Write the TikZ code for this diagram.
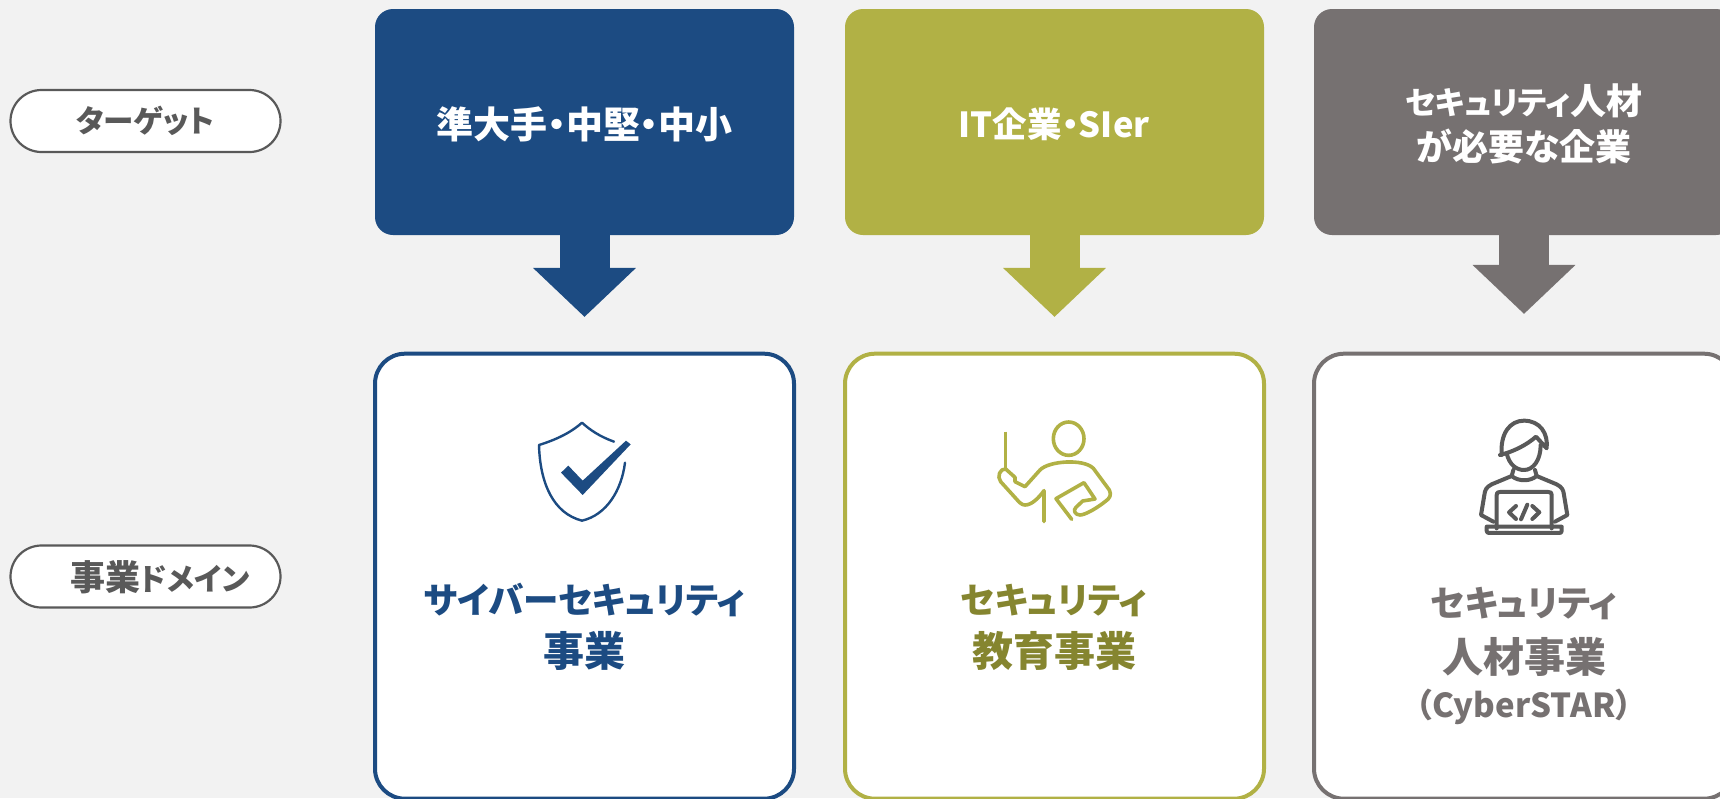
\documentclass[tikz,border=0pt]{standalone}
\usepackage{fontspec}
\setmainfont{Noto Sans CJK JP}[RawFeature=+palt]
\usetikzlibrary{arrows.meta,positioning}

\definecolor{navy}{HTML}{1C4B82}
\definecolor{olive}{HTML}{B1B145}
\definecolor{olivetext}{HTML}{85852F}
\definecolor{stone}{HTML}{767171}
\definecolor{pale}{HTML}{F2F2F2}
\definecolor{ink}{HTML}{595959}
\newcommand{\kanji}[2]{{\fontsize{#1}{#1}\selectfont #2}}

\begin{document}
\begin{tikzpicture} [x=1pt, y=-1pt]
    \tikzstyle{every node} = [align=center, inner sep=0pt, font=\bfseries]
    \tikzstyle{rowpill} = [draw=ink, line width=2.2pt, fill=white, rounded corners=31pt, minimum width=270pt, minimum height=62pt]
    \tikzstyle{pilltext} = [text=ink, font=\bfseries\fontsize{30.5}{36}\selectfont]
    \tikzstyle{targetbox} = [rounded corners=18pt, minimum height=226pt, text=white, font=\bfseries\fontsize{30}{46}\selectfont]
    \tikzstyle{domainbox} = [fill=white, line width=4pt, rounded corners=30pt, minimum height=445pt]
    \tikzstyle{domaintext} = [font=\bfseries\fontsize{35.5}{53}\selectfont]
    \tikzstyle{flow} = [line width=50pt, -{Triangle[width=100pt,length=49pt]}]
    \tikzstyle{iconline} = [line cap=round, line join=round]

    \fill[pale] (0,0) rectangle (1720,798);
    \clip (0,0) rectangle (1720,798);

    \node [rowpill] (pilltarget) at (145.5,121) {};
    \node [pilltext] (labeltarget) at (145.5,121) {ターゲット};
    \node [rowpill] (pilldomain) at (145.5,576.5) {};
    \node [pilltext] (labeldomain) at (160,577) {\kanji{35}{事業}ドメイン};

    \node [targetbox, fill=navy, minimum width=419pt] (target1) at (584.5,122) {};
    \node [targetbox, fill=olive, minimum width=419pt] (target2) at (1054.5,122) {};
    \node [targetbox, fill=stone, minimum width=420pt] (target3) at (1524,122) {};
    \node [text=white, font=\bfseries\fontsize{37}{46}\selectfont] (targetname1) at (584.5,124) {準大手・中堅・中小};
    \node [text=white, font=\bfseries\fontsize{34.5}{46}\selectfont] (targetname2) at (1054,124) {IT企業・SIer};
    \node [text=white, font=\bfseries\fontsize{31.5}{46}\selectfont] (targetname3) at (1524,124) {セキュリティ\kanji{36}{人材}\\\kanji{36}{が必要な企業}};

    \node [domainbox, draw=navy, minimum width=419pt] (domain1) at (584.5,576.2) {};
    \node [domainbox, draw=olive, minimum width=419pt] (domain2) at (1054.5,576.2) {};
    \node [domainbox, draw=stone, minimum width=420pt] (domain3) at (1524,576.2) {};

    \draw [flow, navy] (target1.south) -- ([yshift=34.75pt]domain1.north);
    \draw [flow, olive] (target2.south) -- ([yshift=34.75pt]domain2.north);
    \draw [flow, stone] (target3.south) -- ([yshift=37.75pt]domain3.north);

    \node [domaintext, text=navy] (name1) at (584.5,627) {サイバーセキュリティ\\\kanji{41}{事業}};
    \node [domaintext, text=olivetext] (name2) at (1054,627) {セキュリティ\\\kanji{41}{教育事業}};
    \node [domaintext, text=stone] (name3) at (1524,656) {セキュリティ\\[2.4pt]\kanji{41}{人材事業}\\[-7.6pt]\kanji{33}{（CyberSTAR）}};

    \begin{scope} [shift={(500,400)}, x=0.3333pt, y=-0.3333pt]
        \draw [iconline, navy, line width=2.4pt] (342,125) .. controls (300,110) and (270,90) .. (246,68) .. controls (210,100) and (165,120) .. (117,135) .. controls (120,250) and (160,340) .. (246,362) .. controls (320,345) and (365,270) .. (375,188);
        \fill [navy] (183,218) -- (205,197) -- (248,242) -- (378,122) -- (392,133) -- (248,285) -- cycle;
    \end{scope}

    \begin{scope} [shift={(970,400)}, x=0.3333pt, y=-0.3333pt]
        \draw [olive, line width=3.6pt] (296,116) ellipse [x radius=46, y radius=50];
        \draw [olive, line width=3.6pt] (107,95) -- (107,205);
        \draw [iconline, olive, line width=3.6pt] (222,365) -- (222,272) .. controls (205,295) and (185,315) .. (165,315) .. controls (155,315) and (148,307) .. (140,298) -- (92,245) .. controls (80,230) and (90,205) .. (107,207) -- (135,232) -- (135,245) -- (165,260) -- (210,210) .. controls (235,183) and (340,175) .. (370,205) -- (418,270) .. controls (425,285) and (420,295) .. (405,305) .. controls (380,325) and (345,345) .. (330,345) .. controls (315,345) and (308,330) .. (318,322) -- (338,303) -- (375,297) -- (342,248) -- (258,296) -- (305,358);
    \end{scope}

    \begin{scope} [shift={(1450,400)}, x=0.3333pt, y=-0.3333pt]
        \tikzstyle{every path} = [iconline, ink, line width=4pt]
        \draw (155,165) .. controls (150,100) and (180,62) .. (222,62) .. controls (270,62) and (295,100) .. (290,145) -- (258,110) .. controls (230,135) and (190,155) .. (150,165);
        \draw (170,160) .. controls (178,195) and (200,210) .. (222,210) .. controls (250,210) and (272,180) .. (272,135);
        \draw (190,210) -- (185,228) .. controls (205,245) and (240,245) .. (260,228) -- (255,210);
        \draw (185,228) -- (125,253) .. controls (108,262) and (105,270) .. (103,285) -- (93,345) -- (130,365);
        \draw (260,228) -- (320,253) .. controls (337,262) and (340,270) .. (342,285) -- (352,345) -- (315,365);
        \draw (140,385) -- (140,285) .. controls (140,278) and (142,276) .. (150,276) -- (295,276) .. controls (303,276) and (305,278) .. (305,285) -- (305,385);
        \draw (110,380) -- (110,392) .. controls (110,397) and (112,399) .. (118,399) -- (328,399) .. controls (333,399) and (335,397) .. (335,392) -- (335,380) -- cycle;
        \draw (198,318) -- (177,337) -- (198,357);
        \draw (247,318) -- (268,337) -- (247,357);
        \draw (232,314) -- (213,358);
    \end{scope}
\end{tikzpicture}
\end{document}
